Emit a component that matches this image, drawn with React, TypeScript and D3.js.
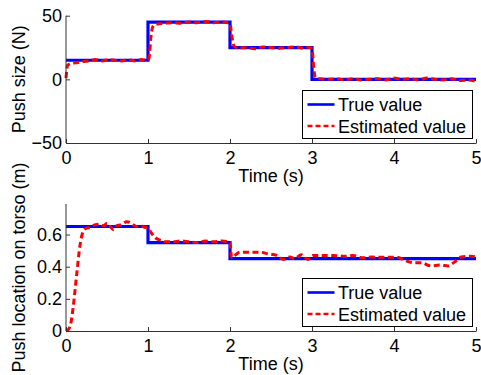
import React, { useEffect, useRef } from "react";
import * as d3 from "d3";

// true push profile (step changes)
const stepTimes = [0, 1, 2, 3, 5];
const trueForce = [15, 45, 25, 0, 0];
const trueLoc = [0.65, 0.55, 0.45, 0.45, 0.45];

// estimated push size (N)
const estForceT = [0, 0.02, 0.06, 0.12, 0.2, 0.28, 0.36, 0.44, 0.52, 0.6, 0.68, 0.76, 0.84, 0.92, 0.98, 1.01, 1.04, 1.07, 1.12, 1.2, 1.3, 1.4, 1.5, 1.6, 1.7, 1.8, 1.9, 1.97, 2.0, 2.02, 2.05, 2.1, 2.2, 2.3, 2.4, 2.5, 2.6, 2.7, 2.8, 2.9, 2.97, 3.0, 3.02, 3.04, 3.1, 3.2, 3.3, 3.4, 3.5, 3.6, 3.7, 3.8, 3.9, 4.0, 4.1, 4.2, 4.3, 4.4, 4.5, 4.6, 4.7, 4.8, 4.9, 5.0];
const estForceV = [1, 11, 12.5, 13, 14, 14.5, 15.5, 14.5, 15.5, 15, 14.5, 15.5, 14.5, 15.5, 15, 16, 36, 42.5, 43.5, 44, 44.5, 44, 45, 44.5, 45.5, 44.5, 45, 44.5, 44, 35, 26, 24.5, 25, 24, 25.5, 25, 24.5, 25, 25.5, 24.5, 25, 24, 10, 1.5, 0.5, 0, 0.5, -0.5, 0.5, -0.5, 0, 0.5, -0.5, 1, 0, 0.5, -0.5, 1, 0, -0.5, 0.5, -1, -0.5, -1.5];

// estimated push location (m)
const estLocT = [0, 0.03, 0.06, 0.09, 0.13, 0.17, 0.21, 0.25, 0.3, 0.35, 0.41, 0.46, 0.5, 0.54, 0.58, 0.62, 0.66, 0.7, 0.74, 0.78, 0.82, 0.86, 0.9, 0.96, 1.0, 1.04, 1.09, 1.15, 1.23, 1.3, 1.4, 1.5, 1.6, 1.7, 1.8, 1.9, 1.97, 2.0, 2.02, 2.06, 2.12, 2.25, 2.37, 2.46, 2.57, 2.65, 2.73, 2.79, 2.87, 2.95, 3.01, 3.13, 3.26, 3.4, 3.5, 3.62, 3.73, 3.83, 3.95, 4.03, 4.13, 4.23, 4.33, 4.45, 4.56, 4.66, 4.74, 4.82, 4.94, 5.0];
const estLocV = [0, 0.01, 0.05, 0.16, 0.35, 0.53, 0.62, 0.64, 0.645, 0.66, 0.665, 0.655, 0.67, 0.65, 0.63, 0.655, 0.66, 0.67, 0.68, 0.675, 0.66, 0.65, 0.655, 0.645, 0.64, 0.61, 0.58, 0.565, 0.555, 0.555, 0.56, 0.555, 0.55, 0.56, 0.555, 0.56, 0.555, 0.55, 0.455, 0.47, 0.49, 0.49, 0.49, 0.48, 0.47, 0.445, 0.46, 0.45, 0.475, 0.445, 0.47, 0.47, 0.47, 0.465, 0.47, 0.455, 0.46, 0.458, 0.458, 0.46, 0.44, 0.425, 0.425, 0.405, 0.41, 0.405, 0.43, 0.46, 0.465, 0.46];

const xTicks = [0, 1, 2, 3, 4, 5];
const forceTicks = [-50, 0, 50];
const locTicks = [0, 0.2, 0.4, 0.6];
const legendLabels = ["True value", "Estimated value"];

export default function App() {
    const ref = useRef<SVGSVGElement>(null);

    useEffect(() => {
        const width = 481, height = 375;
        const svg = d3.select(ref.current);
        svg.selectAll("*").remove();
        svg.attr("width", width).attr("height", height);

        const font = "'Liberation Sans', Arial, sans-serif";
        const fs = 18;
        const x = d3.scaleLinear().domain([0, 5]).range([66, 476]);

        const panels = [
            { top: 15.7, bottom: 143, domain: [-50, 50], ticks: forceTicks, ylabel: "Push size (N)",
              trueV: trueForce, estT: estForceT, estV: estForceV, fmt: (d: number) => d3.format("d")(d) },
            { top: 204, bottom: 331, domain: [0, 0.79], ticks: locTicks, ylabel: "Push location on torso (m)",
              trueV: trueLoc, estT: estLocT, estV: estLocV, fmt: (d: number) => (d === 0 ? "0" : d3.format(".1f")(d)) },
        ];

        panels.forEach(p => {
            const y = d3.scaleLinear().domain(p.domain).range([p.bottom, p.top]);
            const g = svg.append("g");

            const clipId = "clip" + Math.round(p.top);
            svg.append("clipPath").attr("id", clipId)
                .append("rect").attr("x", 64).attr("y", p.top - 4).attr("width", 416).attr("height", p.bottom - p.top + 6);

            const trueLine = d3.line<number>()
                .x((_, i) => x(stepTimes[i]))
                .y(d => y(d))
                .curve(d3.curveStepAfter);
            g.append("path")
                .attr("d", trueLine(p.trueV))
                .attr("fill", "none")
                .attr("stroke", "#0000ff")
                .attr("stroke-width", 3.2)
                .attr("clip-path", `url(#${clipId})`);

            const estLine = d3.line<number>()
                .x((_, i) => x(p.estT[i]))
                .y(d => y(d))
                .curve(d3.curveMonotoneX);
            g.append("path")
                .attr("d", estLine(p.estV))
                .attr("fill", "none")
                .attr("stroke", "#ff0000")
                .attr("stroke-width", 3)
                .attr("stroke-dasharray", "6,3.5")
                .attr("clip-path", `url(#${clipId})`);

            // axes, box off, ticks pointing in
            const ax = g.append("g")
                .attr("transform", `translate(0,${p.bottom})`)
                .call(d3.axisBottom(x).tickValues(xTicks).tickSizeInner(-4).tickSizeOuter(0).tickPadding(8).tickFormat(d3.format("d")));
            const ay = g.append("g")
                .attr("transform", `translate(${x(0)},0)`)
                .call(d3.axisLeft(y).tickValues(p.ticks).tickSizeInner(-4).tickSizeOuter(0).tickPadding(4).tickFormat(p.fmt as any));
            ay.select(".domain").attr("d", `M0,${p.top}V${p.bottom}`);
            [ax, ay].forEach(a => {
                a.selectAll(".domain, line").attr("stroke", "#333");
                a.selectAll("text").attr("font-family", font).attr("font-size", fs).attr("fill", "#000");
            });

            g.append("text")
                .attr("x", 271).attr("y", p.bottom + 38.5)
                .attr("text-anchor", "middle")
                .attr("font-family", font).attr("font-size", fs)
                .text("Time (s)");

            g.append("text")
                .attr("transform", `translate(25,${(p.top + p.bottom) / 2}) rotate(-90)`)
                .attr("text-anchor", "middle")
                .attr("font-family", font).attr("font-size", fs)
                .text(p.ylabel);

            // legend
            const lg = g.append("g").attr("transform", `translate(302.5,${p.bottom - 52.5})`);
            lg.append("rect").attr("width", 170).attr("height", 48)
                .attr("fill", "#fff").attr("stroke", "#000").attr("stroke-width", 1);
            legendLabels.forEach((lab, i) => {
                const ly = 14 + i * 21.5;
                lg.append("line")
                    .attr("x1", 5).attr("x2", 32).attr("y1", ly).attr("y2", ly)
                    .attr("stroke", i === 0 ? "#0000ff" : "#ff0000")
                    .attr("stroke-width", 2.6)
                    .attr("stroke-dasharray", i === 0 ? null : "5,3");
                lg.append("text")
                    .attr("x", 35.5).attr("y", ly + 6.5)
                    .attr("font-family", font).attr("font-size", fs)
                    .text(lab);
            });
        });
    }, []);

    return (
        <div style={{ position: "absolute", left: 0, top: 0 }}>
            <svg ref={ref}></svg>
        </div>
    );
}
